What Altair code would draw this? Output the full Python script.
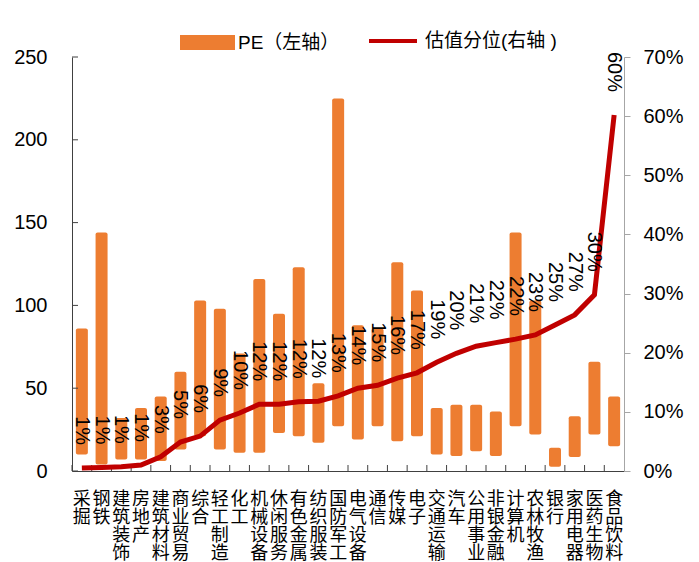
import altair as alt
import pandas as pd

categories = ['采掘', '钢铁', '建筑装饰', '房地产', '建筑材料', '商业贸易', '综合', '轻工制造',
              '化工', '机械设备', '休闲服务', '有色金属', '纺织服装', '国防军工', '电气设备', '通信',
              '传媒', '电子', '交通运输', '汽车', '公用事业', '非银金融', '计算机', '农林牧渔',
              '银行', '家用电器', '医药生物', '食品饮料']
pe_high = [86, 144, 32, 38, 45, 60, 103, 98, 71, 116, 95, 123, 53, 225, 88, 86,
           126, 109, 38, 40, 40, 36, 144, 103, 14, 33, 66, 45]
pe_low = [10, 4, 7, 7, 6, 13, 21, 13, 11, 11, 23, 21, 17, 27, 19, 27,
          18, 21, 10, 9, 12, 9, 27, 22, 2.5, 8.5, 22, 15]
percentile = [0.005, 0.006, 0.007, 0.010, 0.024, 0.049, 0.059, 0.086, 0.098, 0.113,
              0.113, 0.117, 0.118, 0.127, 0.140, 0.145, 0.157, 0.166, 0.184, 0.199,
              0.211, 0.217, 0.223, 0.230, 0.247, 0.264, 0.298, 0.602]
pct_labels = ['1%', '1%', '1%', '1%', '3%', '5%', '6%', '9%', '10%', '12%', '12%', '12%',
              '12%', '13%', '14%', '15%', '16%', '17%', '19%', '20%', '21%', '22%', '22%',
              '23%', '25%', '27%', '30%', '60%']
left_ticks = [0, 50, 100, 150, 200, 250]
right_ticks = [0, 0.1, 0.2, 0.3, 0.4, 0.5, 0.6, 0.7]

PE_NAME = 'PE（左轴）'
PCT_NAME = '估值分位(右轴 )'

df = pd.DataFrame({'cat': categories, 'low': pe_low, 'high': pe_high,
                   'pct': percentile, 'lab': pct_labels})
df['s_pe'] = PE_NAME
df['s_pct'] = PCT_NAME
ticks_df = pd.DataFrame({'v': left_ticks})

W, H = 552, 414
FONT = "'Liberation Sans', 'Noto Sans CJK SC', sans-serif"
CJK = "'Noto Sans CJK SC', sans-serif"

x_enc = alt.X('cat:N', sort=categories, title=None,
              scale=alt.Scale(paddingInner=0, paddingOuter=0),
              axis=alt.Axis(labelExpr="split(datum.label, '')", labelAngle=0,
                            labelFontSize=18, labelFont=CJK, labelLineHeight=18,
                            labelBaseline='top', labelPadding=19, ticks=False,
                            domainColor='#404040', labelColor='#000000',
                            labelOverlap=False, labelLimit=0))

y_left_scale = alt.Scale(domain=[0, 250], nice=False, zero=True)

bars = alt.Chart(df).mark_bar(width=12, cornerRadius=2).encode(
    x=x_enc,
    y=alt.Y('low:Q', scale=y_left_scale, title=None,
            axis=alt.Axis(values=left_ticks, ticks=False, labelFontSize=20,
                          labelPadding=25, domainColor='#404040', grid=False,
                          labelColor='#000000')),
    y2='high:Q',
    fill=alt.Fill('s_pe:N', title=None,
                  scale=alt.Scale(domain=[PE_NAME], range=['#ED7D31']),
                  legend=alt.Legend(orient='none', legendX=108, legendY=-42,
                                    symbolType='M-1,-0.27L1,-0.27L1,0.27L-1,0.27Z',
                                    symbolSize=3025, symbolStrokeWidth=0,
                                    labelFontSize=19, labelFont=FONT, labelOffset=3,
                                    labelColor='#000000', padding=0)),
)

yticks = alt.Chart(ticks_df).mark_rule(color='#404040', strokeWidth=1).encode(
    y=alt.Y('v:Q', scale=y_left_scale),
    x=alt.value(0), x2=alt.value(6),
)

xticks = alt.Chart(df).mark_rule(color='#404040', strokeWidth=1).encode(
    x=alt.X('cat:N', sort=categories, bandPosition=0),
    y=alt.value(H), y2=alt.value(H - 6),
)

y_right_scale = alt.Scale(domain=[0, 0.7], nice=False, zero=True)

line = alt.Chart(df).mark_line(strokeWidth=5).encode(
    x=alt.X('cat:N', sort=categories),
    y=alt.Y('pct:Q', scale=y_right_scale, title=None,
            axis=alt.Axis(orient='right', values=right_ticks, format='.0%',
                          labelFontSize=20, tickSize=6, labelPadding=13,
                          domainColor='#A6A6A6', tickColor='#A6A6A6', grid=False,
                          labelColor='#000000')),
    stroke=alt.Stroke('s_pct:N', title=None,
                      scale=alt.Scale(domain=[PCT_NAME], range=['#C00000']),
                      legend=alt.Legend(orient='none', legendX=295, legendY=-42,
                                        symbolType='stroke', symbolSize=2304,
                                        symbolStrokeWidth=4, labelFontSize=19,
                                        labelFont=FONT, labelOffset=6,
                                        labelColor='#000000', padding=0)),
)

labels = alt.Chart(df).mark_text(angle=90, align='right', baseline='middle', dx=-23,
                                 fontSize=20, font=FONT, color='#000000').encode(
    x=alt.X('cat:N', sort=categories),
    y=alt.Y('pct:Q', scale=y_right_scale),
    text='lab:N',
)

left_group = alt.layer(bars, yticks, xticks)
right_group = alt.layer(line, labels)

chart = alt.layer(left_group, right_group).resolve_scale(
    y='independent', fill='independent', stroke='independent'
).properties(
    width=W, height=H,
    autosize=alt.AutoSizeParams(type='none'),
    padding={'left': 72, 'top': 57, 'right': 75, 'bottom': 91},
).configure(font=FONT).configure_view(stroke=None).configure_axis(
    labelFont=FONT
)

chart.save('out.html', embed_options={'renderer': 'svg', 'actions': False})
